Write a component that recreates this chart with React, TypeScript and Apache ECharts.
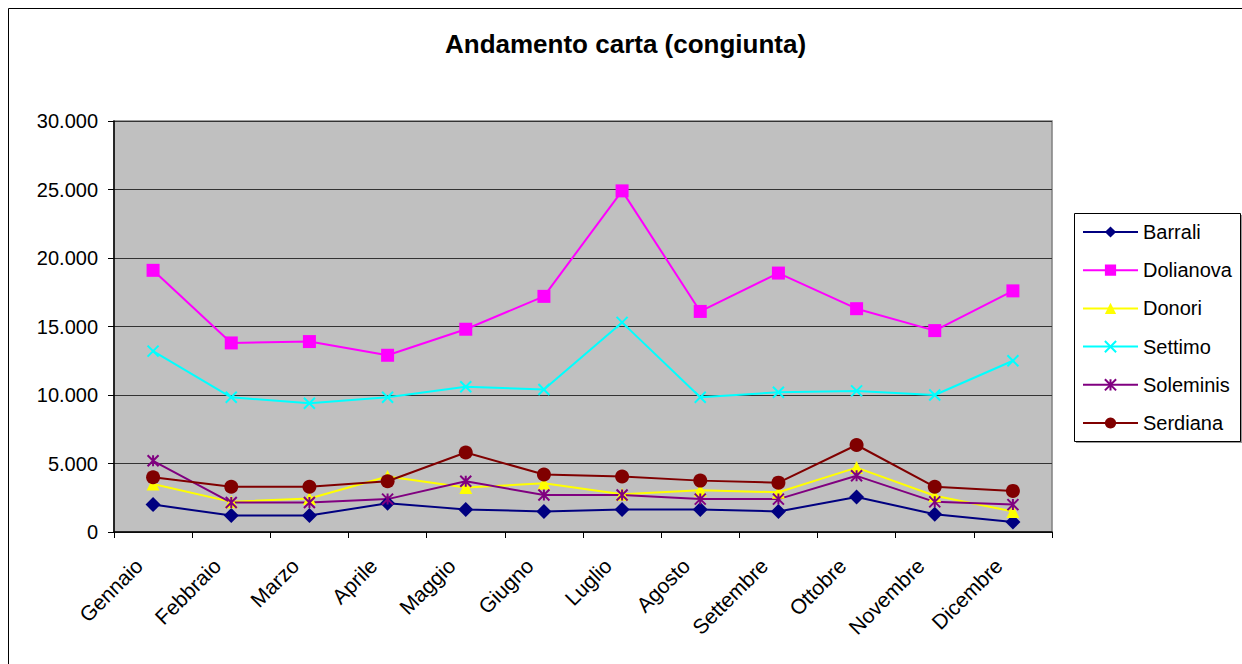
import React, { useEffect, useRef } from "react";
import * as echarts from "echarts";

const categories = ["Gennaio", "Febbraio", "Marzo", "Aprile", "Maggio", "Giugno", "Luglio", "Agosto", "Settembre", "Ottobre", "Novembre", "Dicembre"];
const barrali = [2000, 1200, 1200, 2100, 1650, 1500, 1650, 1650, 1500, 2550, 1300, 730];
const dolianova = [19100, 13800, 13900, 12900, 14800, 17200, 24900, 16100, 18900, 16300, 14700, 17600];
const donori = [3500, 2200, 2450, 4050, 3250, 3550, 2750, 3050, 2900, 4700, 2650, 1500];
const settimo = [13200, 9830, 9400, 9830, 10600, 10400, 15300, 9830, 10200, 10300, 10000, 12500];
const soleminis = [5200, 2150, 2150, 2400, 3700, 2700, 2700, 2400, 2400, 4100, 2200, 2000];
const serdiana = [4000, 3300, 3300, 3700, 5800, 4200, 4050, 3750, 3600, 6350, 3300, 3000];
const yTicks = [0, 5000, 10000, 15000, 20000, 25000, 30000];

const X_PATH = "path://M0,0 L10,10 M10,0 L0,10";
const STAR_PATH = "path://M0,0 L10,10 M10,0 L0,10 M5,0 L5,10";

const fmt = (v: number) => (v === 0 ? "0" : String(v).replace(/\B(?=(\d{3})+(?!\d))/g, "."));

export default function App() {
  const ref = useRef<HTMLDivElement>(null);
  useEffect(() => {
    if (!ref.current) return;
    const chart = echarts.init(ref.current, null, { renderer: "svg" });
    const font = "'Liberation Sans', Arial, sans-serif";
    const mk = (name: string, data: number[], color: string, symbol: string, size: number, stroke = false) => ({
      name,
      type: "line",
      data,
      symbol,
      symbolSize: size,
      lineStyle: { color, width: 2 },
      itemStyle: stroke
        ? { color, borderColor: color, borderWidth: 2 }
        : { color, borderWidth: 0 },
      emphasis: { disabled: true },
    });
    chart.setOption({
      animation: false,
      backgroundColor: "#ffffff",
      textStyle: { fontFamily: font },
      title: {
        text: "Andamento carta (congiunta)",
        left: 445,
        top: 31,
        padding: 0,
        textStyle: { fontSize: 26, fontWeight: "bold", color: "#000", fontFamily: font },
      },
      graphic: [
        {
          type: "rect",
          shape: { x: 8.5, y: 8.5, width: 1260, height: 700 },
          style: { fill: "none", stroke: "#000", lineWidth: 1 },
          silent: true,
          z: -10,
        },
        {
          type: "rect",
          shape: { x: 1076, y: 215, width: 166, height: 228 },
          style: { fill: "#9a9a9a", stroke: "none" },
          silent: true,
          z: -6,
        },
        {
          type: "rect",
          shape: { x: 1074.5, y: 213.5, width: 166, height: 228 },
          style: { fill: "#fff", stroke: "#000", lineWidth: 1 },
          silent: true,
          z: -5,
        },
      ],
      legend: {
        orient: "vertical",
        left: 1082,
        top: 220,
        padding: 0,
        itemWidth: 55,
        itemHeight: 14,
        itemGap: 14.2,
        textStyle: { fontSize: 20, color: "#000", lineHeight: 24, fontFamily: font },
        data: ["Barrali", "Dolianova", "Donori", "Settimo", "Soleminis", "Serdiana"],
      },
      grid: {
        left: 114,
        right: 190,
        top: 121,
        bottom: 132,
        show: true,
        backgroundColor: "#C0C0C0",
        borderColor: "#808080",
        borderWidth: 1.5,
      },
      xAxis: {
        type: "category",
        data: categories,
        boundaryGap: true,
        axisLine: { lineStyle: { color: "#000", width: 1.5 } },
        axisTick: { show: true, length: 6, interval: 0, lineStyle: { color: "#000" } },
        axisLabel: {
          rotate: 45,
          interval: 0,
          fontSize: 21,
          color: "#000",
          margin: 16,
          padding: [0, 20, 0, 0],
          fontFamily: font,
        },
        splitLine: { show: false },
      },
      yAxis: {
        type: "value",
        min: yTicks[0],
        max: yTicks[yTicks.length - 1],
        interval: 5000,
        axisLine: { show: true, lineStyle: { color: "#000", width: 1.5 } },
        axisTick: { show: true, length: 6, lineStyle: { color: "#000" } },
        axisLabel: { fontSize: 20, color: "#000", margin: 16, formatter: fmt, fontFamily: font },
        splitLine: { show: true, lineStyle: { color: "#333", width: 1 } },
      },
      series: [
        mk("Barrali", barrali, "#000080", "diamond", 15),
        mk("Dolianova", dolianova, "#FF00FF", "rect", 13),
        mk("Donori", donori, "#FFFF00", "triangle", 13),
        mk("Settimo", settimo, "#00FFFF", X_PATH, 11, true),
        mk("Soleminis", soleminis, "#800080", STAR_PATH, 11, true),
        mk("Serdiana", serdiana, "#800000", "circle", 14),
      ],
    });
    return () => chart.dispose();
  }, []);
  return (
    <div
      ref={ref}
      style={{ position: "absolute", left: 0, top: 0, width: 1242, height: 664 }}
    />
  );
}
